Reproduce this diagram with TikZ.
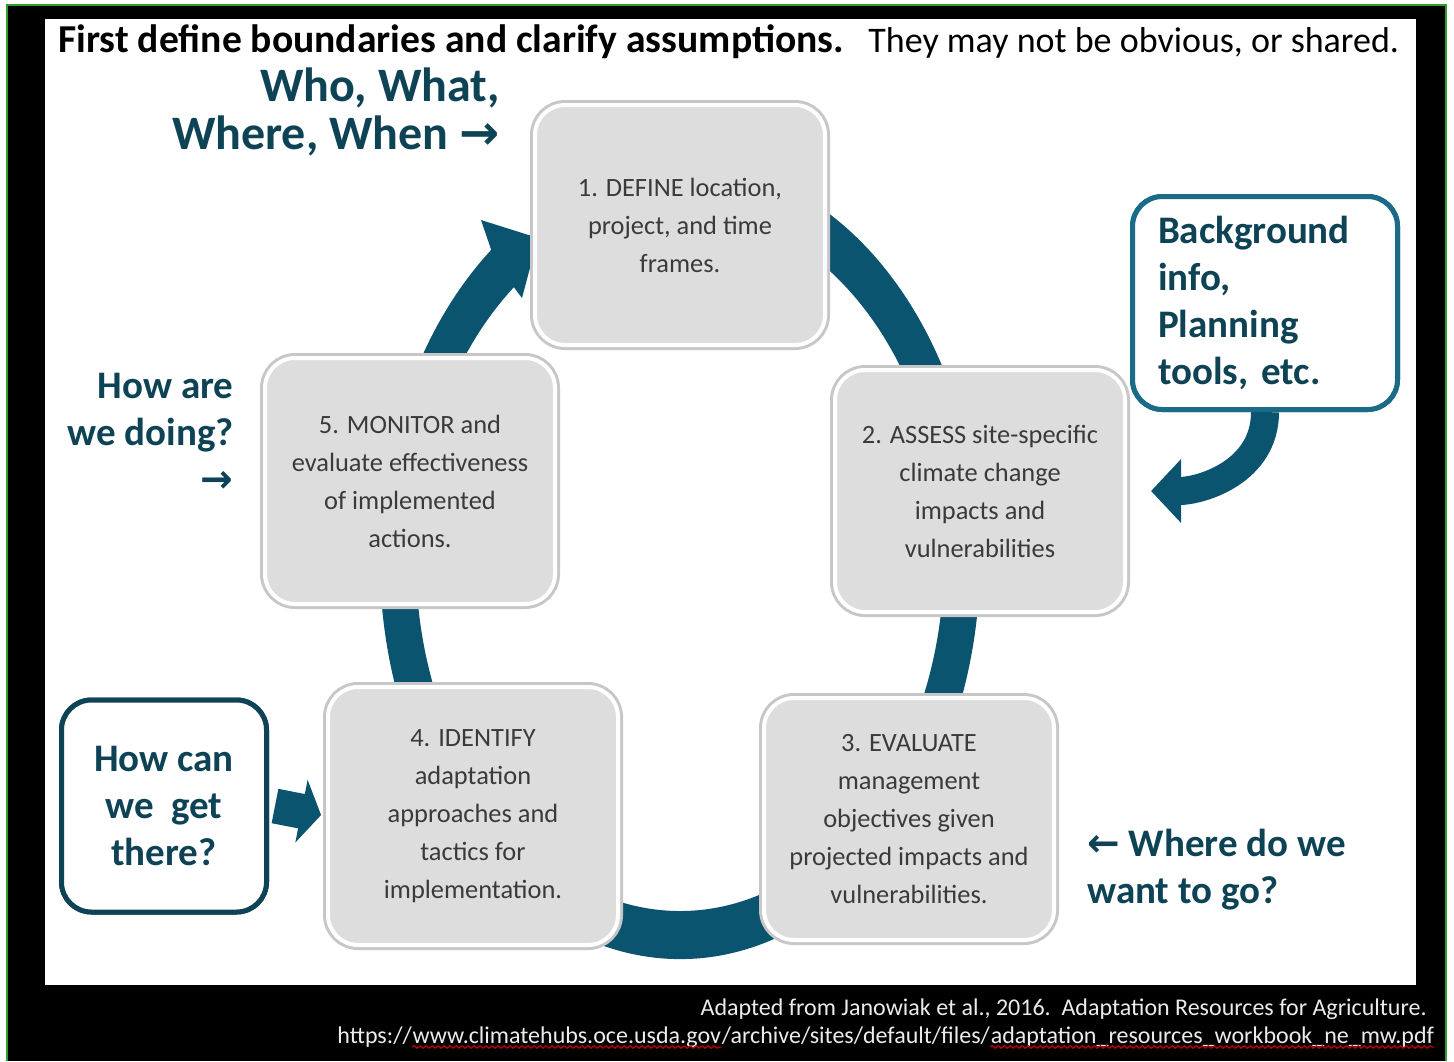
\documentclass[tikz,border=0pt]{standalone}
\usepackage{fontspec}
\setmainfont{Carlito}
\newfontfamily\symfont{DejaVu Sans}
\usetikzlibrary{arrows.meta,decorations.pathmorphing}

\definecolor{ringteal}{HTML}{0B5470}
\definecolor{labteal}{HTML}{0E4356}
\definecolor{lineteal}{HTML}{1A6B87}
\definecolor{stepfill}{HTML}{DDDDDD}
\definecolor{steptext}{HTML}{3A3A3A}
\definecolor{framegreen}{HTML}{2E9E2E}

\newcommand{\arrR}{{\symfont\char"2192}}
\newcommand{\arrL}{{\symfont\char"2190}}

\tikzset{
  stage/.style={rounded corners=15pt, fill=stepfill, draw=white, line width=2pt,
    preaction={draw=black!22, line width=5pt},
    minimum width=145pt, minimum height=121pt, inner sep=0pt, align=center,
    text=steptext, font=\fontsize{13.2pt}{19pt}\selectfont},
  ask/.style={text=labteal, inner sep=0pt, font=\bfseries\fontsize{19.5pt}{23.5pt}\selectfont},
  askbox/.style={ask, draw, rounded corners=15pt, line width=2.5pt},
  foot/.style={text=black!8, inner sep=0pt, anchor=base west, font=\fontsize{12pt}{14pt}\selectfont},
  squiggle/.style={red!75!black, line width=0.6pt, decorate,
    decoration={snake, amplitude=0.6pt, segment length=3pt}},
}

\begin{document}
\begin{tikzpicture}[x=0.5pt, y=-0.5pt]
  \useasboundingbox (0,0) rectangle (1454,1061);
  % frame
  \fill[white] (0,0) rectangle (1454,1061);
  \fill[black] (7,5) rectangle (1446,1061);
  \draw[framegreen, line width=1.2pt] (7,1061) -- (7,5) -- (1446,5) -- (1446,1061);
  \fill[white] (45,19) rectangle (1416,985);

  % heading
  \node(head) [anchor=base west, inner sep=0pt, font=\bfseries\fontsize{19.8pt}{22pt}\selectfont] at (58,52) {First define boundaries and clarify assumptions.};
  \node(aside) [anchor=base west, inner sep=0pt, font=\fontsize{18pt}{20pt}\selectfont] at (868,52) {They may not be obvious, or shared.};

  % ring of arrows behind the steps
  \coordinate (ctr) at (680,560);
  \fill[ringteal] ([shift={(285:300 and 399)}]ctr)
      arc[start angle=285, end angle=591, x radius=300, y radius=399]
      -- (481,220) -- (538,238) -- (522,298)
      -- ([shift={(591:264 and 351)}]ctr)
      arc[start angle=591, end angle=285, x radius=264, y radius=351] -- cycle;

  % the five steps
  \node(s1) [stage, minimum height=120pt] at (680,225) {1. DEFINE location,\\ project, and time\\ frames.};
  \node(s2) [stage] at (980,491) {2. ASSESS site-specific\\ climate change\\ impacts and\\ vulnerabilities};
  \node(s3) [stage] at (909,819) {3. EVALUATE\\ management\\ objectives given\\ projected impacts and\\ vulnerabilities.};
  \node(s4) [stage, minimum height=129pt] at (473,816) {4. IDENTIFY\\ adaptation\\ approaches and\\ tactics for\\ implementation.};
  \node(s5) [stage, minimum height=123pt] at (410,481) {5. MONITOR and\\ evaluate effectiveness\\ of implemented\\ actions.};

  % questions around the cycle
  \node(who) [ask, font=\bfseries\fontsize{24pt}{24pt}\selectfont, align=right, anchor=east] at (500,112) {Who, What,\\ Where, When \arrR};
  \node(doing) [ask, align=right, anchor=east] at (234,433) {How are\\ we doing?\\ \arrR};
  \node(where) [ask, align=left, anchor=west] at (1087,870) {\arrL{} Where do we\\ want to go?};

  % feeding arrows, then their boxes
  \node(bg) [askbox, draw=lineteal, align=left, text width=107pt, minimum width=132.5pt, minimum height=106.5pt] at (1265,303) {};
  \node(how) [askbox, draw=labteal, align=center, minimum width=102.5pt, minimum height=106pt] at (164,806) {};
  \draw[ringteal, line width=14pt, -{Triangle[width=31pt, length=15pt]}] (bg.south) .. controls +(0,60) and +(50,0) .. ([xshift=12pt]s2.east);
  \draw[ringteal, line width=17.5pt, -{Triangle[width=31.5pt, length=10pt]}, shorten >=2.5pt] ([xshift=3pt]how.east) -- (s4.west);
  \node(bgtext) [askbox, draw=lineteal, fill=white, align=left, text width=107pt, minimum width=132.5pt, minimum height=106.5pt] at (bg) {Background\\ info,\\ Planning\\ tools, etc.};
  \node(howtext) [askbox, draw=labteal, fill=white, align=center, minimum width=102.5pt, minimum height=106pt] at (how) {How can\\ we~ get\\ there?};

  % source
  \node(src) [foot, anchor=base east] at (1427,1015) {Adapted from Janowiak et al., 2016.\ \ Adaptation Resources for Agriculture.};
  \node(u1) [foot] at (337,1043) {https://};
  \node(u2) [foot] at (u1.base east) {www.climatehubs.oce.usda.gov};
  \node(u3) [foot] at (u2.base east) {/archive/sites/default/files/};
  \node(u4) [foot] at (u3.base east) {adaptation\_resources\_workbook\_ne\_mw.pdf};
  \draw[squiggle] ([yshift=-2pt]u2.base west) -- ([yshift=-2pt]u2.base east);
  \draw[squiggle] ([yshift=-2pt]u4.base west) -- ([yshift=-2pt]u4.base east);
\end{tikzpicture}
\end{document}
